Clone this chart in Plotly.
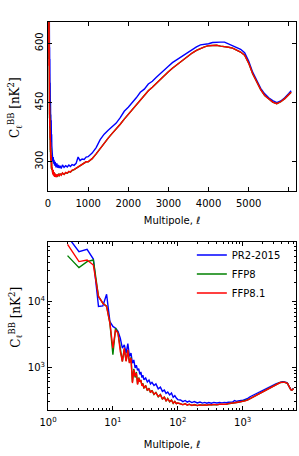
import plotly.graph_objects as go

# Multipole values (shared by all three spectra)
ell = [2, 3, 4, 5, 6, 7, 8, 9, 10, 11, 12, 13, 14, 15, 16, 17, 18, 19, 20,
       21, 22, 23, 24, 25, 26, 27, 28, 29, 30,
       32, 34, 36, 38, 40, 43, 46, 50, 54, 58, 62, 66, 70, 75, 80, 85, 90, 95, 100,
       110, 120, 130, 140, 150, 165, 180, 200, 220, 240, 260, 280, 300, 330, 360,
       400, 440, 480, 520, 560, 600, 650, 700, 750, 800, 850, 900, 950, 1000,
       1100, 1200, 1300, 1400, 1500, 1600, 1700, 1800, 1900, 2000,
       2100, 2200, 2300, 2400, 2500, 2600, 2700, 2800, 2900, 3000,
       3100, 3200, 3300, 3400, 3500, 3600, 3700, 3800, 3900, 4000,
       4100, 4200, 4300, 4400, 4500, 4600, 4700, 4800, 4900, 5000,
       5100, 5200, 5300, 5400, 5500, 5600, 5700, 5800, 5900, 6000, 6060]

# C_ell^BB [nK^2]
cl_pr2 = [100000, 58600, 63600, 45200, 8510, 8690, 13100, 5020, 4220, 3970, 3540, 2800,
          1970, 2210, 1650, 2300, 1470, 1650, 1160,
          1300, 980, 1080, 900, 960, 780, 850, 700, 760, 650,
          690, 600, 640, 560, 590, 530, 560, 470, 500, 430, 450, 400, 420, 380, 405, 350, 370, 340, 322,
          318, 300, 312, 295, 305, 290, 300, 286, 296, 285, 292, 284, 290, 283, 292,
          286, 290, 287, 292, 288, 293, 291, 296, 312, 303, 307, 306, 312, 313,
          322, 336, 356, 370, 380, 389, 398, 412, 428, 438,
          449, 462, 476, 484, 497, 504, 514, 524, 534, 542,
          551, 558, 565, 571, 578, 586, 591, 596, 597, 599,
          602, 603, 603, 603, 598, 594, 590, 585, 576, 555,
          527, 505, 486, 472, 462, 455, 450, 454, 462, 473, 480]

cl_ffp8 = [50900, 33400, 41300, 43700, 12100, 9550, 8600, 4730, 1560, 3970, 3330, 1970,
           1230, 1900, 1260, 1800, 1180, 1420, 600,
           950, 700, 850, 560, 700, 620, 630, 540, 570, 480,
           530, 440, 480, 410, 445, 385, 415, 355, 385, 325, 355, 305, 335, 298, 318, 282, 302, 279, 286,
           276, 270, 279, 266, 273, 263, 269, 262, 267, 264, 268, 265, 269, 267, 271,
           268, 272, 271, 275, 274, 278, 280, 283, 287, 291, 294, 296, 300, 300,
           308, 320, 334, 348, 360, 372, 383, 395, 408, 420,
           432, 444, 456, 467, 480, 489, 499, 510, 520, 528,
           537, 545, 553, 561, 567, 576, 582, 587, 591, 594,
           595, 595, 593, 592, 590, 588, 584, 578, 570, 550,
           523, 501, 483, 468, 459, 451, 447, 452, 460, 470, 476]

cl_ffp81 = [75800, 41300, 43700, 36600, 12100, 9550, 8510, 4730, 1970, 3740, 3330, 1750,
            1230, 1970, 1230, 1850, 1160, 1390, 576,
            920, 730, 820, 543, 687, 600, 640, 520, 560, 490,
            520, 450, 470, 420, 440, 390, 410, 360, 380, 330, 350, 310, 330, 300, 315, 285, 300, 280, 285,
            278, 268, 280, 265, 274, 262, 270, 261, 268, 263, 269, 264, 270, 266, 272,
            268, 273, 271, 276, 274, 279, 280, 283, 288, 291, 294, 297, 300, 300,
            308, 320, 334, 348, 360, 372, 383, 395, 408, 420,
            432, 444, 456, 467, 480, 489, 499, 510, 520, 528,
            537, 545, 553, 561, 567, 576, 582, 587, 591, 594,
            595, 595, 593, 592, 590, 588, 584, 578, 570, 550,
            523, 501, 483, 468, 459, 451, 447, 452, 460, 470, 476]

series_names = ["PR2-2015", "FFP8", "FFP8.1"]
series_values = [cl_pr2, cl_ffp8, cl_ffp81]
series_colors = ["#0000ff", "#008000", "#ff0000"]

top_yticks = [300, 450, 600]
top_xticks = [0, 1000, 2000, 3000, 4000, 5000, 6000]
log_ticks = [1, 10, 100, 1000]
log_ticktext = ["10<sup>0</sup>", "10<sup>1</sup>", "10<sup>2</sup>", "10<sup>3</sup>"]
logy_ticks = [1000, 10000]
logy_ticktext = ["10<sup>3</sup>", "10<sup>4</sup>"]

fig = go.Figure()
for name, vals, col in zip(series_names, series_values, series_colors):
    fig.add_trace(go.Scatter(x=ell, y=vals, mode="lines", line=dict(color=col, width=1.4),
                             xaxis="x", yaxis="y", showlegend=False, name=name))
for name, vals, col in zip(series_names, series_values, series_colors):
    fig.add_trace(go.Scatter(x=ell, y=vals, mode="lines", line=dict(color=col, width=1.4),
                             xaxis="x2", yaxis="y2", showlegend=True, name=name,
                             legendgroup=name))

font = dict(family="DejaVu Sans", size=10, color="black")
axis_common = dict(showline=True, linecolor="black", linewidth=1, mirror="ticks",
                   ticks="inside", ticklen=4, tickcolor="black", tickwidth=1,
                   showgrid=False, zeroline=False, tickfont=font, automargin=False)

minor_x = [m * d for d in (1, 10, 100, 1000) for m in range(2, 10)]
minor_y = [m * d for d in (100, 1000, 10000) for m in range(2, 10)]

fig.update_layout(
    width=299, height=456,
    margin=dict(l=48, r=3, t=22, b=46),
    paper_bgcolor="white", plot_bgcolor="white",
    font=font,
    xaxis=dict(axis_common, range=[0, 6180], tickvals=top_xticks, anchor="y",
               ticklabelstandoff=3,
               title=dict(text="Multipole, <i>ℓ</i>", font=font, standoff=8)),
    yaxis=dict(axis_common, range=[226, 654], tickvals=top_yticks, tickangle=-90,
               domain=[0.5644, 1], anchor="x"),
    xaxis2=dict(axis_common, type="log", range=[0, 3.822], tickvals=log_ticks,
                ticktext=log_ticktext, anchor="y2", ticklabelstandoff=3,
                minor=dict(ticks="inside", ticklen=2, tickcolor="black", tickvals=minor_x),
                title=dict(text="Multipole, <i>ℓ</i>", font=font, standoff=13)),
    yaxis2=dict(axis_common, type="log", range=[2.349, 4.915], tickvals=logy_ticks,
                ticktext=logy_ticktext, domain=[0, 0.433], anchor="x2",
                minor=dict(ticks="inside", ticklen=2, tickcolor="black", tickvals=minor_y)),
    legend=dict(x=0.58, y=0.437, xanchor="left", yanchor="top", bgcolor="rgba(0,0,0,0)",
                font=dict(family="DejaVu Sans", size=10, color="black"),
                tracegroupgap=0),
)

ylabel = "C<sub>ℓ</sub><sup>BB</sup> [nK<sup>2</sup>]"
fig.add_annotation(text=ylabel, xref="paper", yref="paper", x=-0.13, y=0.78,
                   xanchor="center", yanchor="middle",
                   textangle=-90, showarrow=False,
                   font=dict(family="DejaVu Serif", size=12, color="black"))
fig.add_annotation(text=ylabel, xref="paper", yref="paper", x=-0.13, y=0.24,
                   xanchor="center", yanchor="middle",
                   textangle=-90, showarrow=False,
                   font=dict(family="DejaVu Serif", size=12, color="black"))

fig.write_html("out.html", config={"displayModeBar": False},
               post_script="document.body.style.margin='0';document.body.style.padding='0';")
